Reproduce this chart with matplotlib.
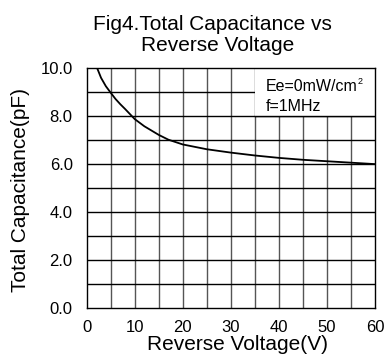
import matplotlib
matplotlib.use('Agg')
import matplotlib.pyplot as plt
from matplotlib.patches import Rectangle

plt.rcParams['font.family'] = ['Liberation Sans', 'DejaVu Sans']

# curve
voltage = [2.2, 3, 4, 5, 6, 7, 8, 10, 12, 15, 17, 20, 25, 30, 35, 40, 45, 50, 55, 60]
capacitance = [10.0, 9.6, 9.25, 8.98, 8.72, 8.5, 8.3, 7.88, 7.58, 7.22, 7.02, 6.82, 6.62, 6.48, 6.36, 6.26, 6.18, 6.12, 6.06, 6.0]

x_ticks = [0, 10, 20, 30, 40, 50, 60]
y_ticks = [0.0, 2.0, 4.0, 6.0, 8.0, 10.0]

fig = plt.figure(figsize=(3.85, 3.61), dpi=100)
ax = fig.add_axes([0.225, 0.147, 0.749, 0.664])

# grid every 5 V and every 1 pF
for v in range(5, 60, 5):
    ax.axvline(v, color='#555555', lw=1.0, zorder=1)
for c in range(1, 10):
    ax.axhline(c, color='black', lw=1.0, zorder=1)

# white box behind the condition text
ax.add_patch(Rectangle((35, 8), 25, 2, facecolor='white', edgecolor='none', zorder=2))
ax.axhline(8, xmin=35/60, xmax=1, color='black', lw=1.0, zorder=2)

ax.plot(voltage, capacitance, color='black', lw=1.3, zorder=3)

ee = ax.text(37.2, 9.25, 'Ee=0mW/cm', fontsize=11.5, va='center', zorder=4)
ax.annotate('2', xy=(1.0, 1.0), xycoords=ee, xytext=(0.5, 1.5), textcoords='offset points',
            fontsize=6.5, ha='left', va='top', zorder=4)
ax.text(37.2, 8.4, 'f=1MHz', fontsize=11.5, va='center', zorder=4)

ax.set_xlim(0, 60)
ax.set_ylim(0, 10)
ax.set_xticks(x_ticks)
ax.set_yticks(y_ticks)
ax.set_yticklabels(['%.1f' % t for t in y_ticks])
ax.tick_params(length=0, labelsize=12)
ax.tick_params(axis='x', pad=9)
ax.tick_params(axis='y', pad=10)
for s in ax.spines.values():
    s.set_linewidth(1.0)
    s.set_zorder(5)

ax.set_xlabel('Reverse Voltage(V)', fontsize=15)
ax.set_ylabel('Total Capacitance(pF)', fontsize=15)
ax.xaxis.set_label_coords((238 - 86.7) / 289, -0.115)
ax.yaxis.set_label_coords(-0.195, 0.49)

fig.text(212 / 385, 1 - 30 / 361, 'Fig4.Total Capacitance vs', fontsize=15, ha='center', va='baseline')
fig.text(218 / 385, 1 - 51 / 361, 'Reverse Voltage', fontsize=15, ha='center', va='baseline')

fig.savefig('out.png', dpi=100)
